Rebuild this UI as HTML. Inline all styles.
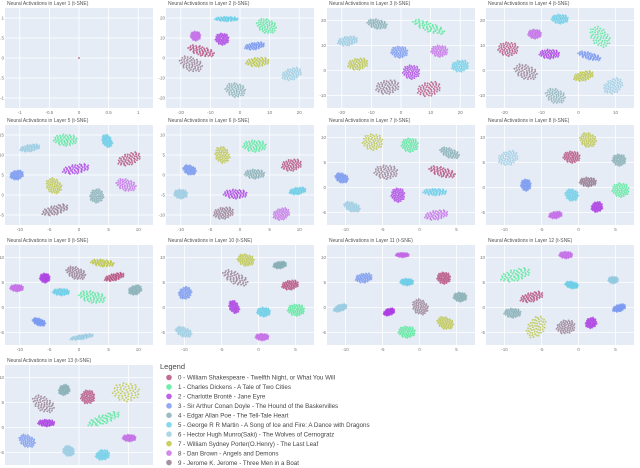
<!DOCTYPE html>
<html><head><meta charset="utf-8">
<style>
html,body{margin:0;padding:0;background:#fff;width:640px;height:468px;overflow:hidden;font-family:"Liberation Sans",sans-serif;}
svg{display:block}
</style></head>
<body>
<svg id="chart" width="640" height="468" viewBox="0 0 640 468"></svg>
<script>
const panelTitles=["Neural Activations in Layer 1 (t-SNE)","Neural Activations in Layer 2 (t-SNE)","Neural Activations in Layer 3 (t-SNE)","Neural Activations in Layer 4 (t-SNE)","Neural Activations in Layer 5 (t-SNE)","Neural Activations in Layer 6 (t-SNE)","Neural Activations in Layer 7 (t-SNE)","Neural Activations in Layer 8 (t-SNE)","Neural Activations in Layer 9 (t-SNE)","Neural Activations in Layer 10 (t-SNE)","Neural Activations in Layer 11 (t-SNE)","Neural Activations in Layer 12 (t-SNE)","Neural Activations in Layer 13 (t-SNE)"];
const authorLabels=["0 - William Shakespeare - Twelfth Night, or What You Will","1 - Charles Dickens - A Tale of Two Cities","2 - Charlotte Brontë - Jane Eyre","3 - Sir Arthur Conan Doyle - The Hound of the Baskervilles","4 - Edgar Allan Poe - The Tell-Tale Heart","5 - George R R Martin - A Song of Ice and Fire: A Dance with Dragons","6 - Hector Hugh Munro(Saki) - The Wolves of Cernogratz","7 - William Sydney Porter(O.Henry) - The Last Leaf","8 - Dan Brown - Angels and Demons","9 - Jerome K. Jerome - Three Men in a Boat"];
const authorColors=["#b03a6e","#3fe88c","#a72ee0","#6c8ef0","#7aa7ad","#5ccbe6","#8ec8de","#b7bf2c","#c263e6","#8a6b80"];
// cluster centres per panel (normalised 0..1), index = author id; panel 0 has one point
const clusterX=[
 [0.5],
 [0.24,0.68,0.38,0.60,0.47,0.41,0.85,0.62,0.20,0.17],
 [0.69,0.69,0.57,0.49,0.34,0.90,0.14,0.21,0.76,0.41],
 [0.15,0.77,0.43,0.70,0.47,0.50,0.86,0.66,0.33,0.27],
 [0.84,0.41,0.48,0.08,0.62,0.69,0.17,0.33,0.82,0.34],
 [0.85,0.60,0.47,0.16,0.60,0.89,0.10,0.38,0.78,0.39],
 [0.78,0.56,0.48,0.10,0.83,0.73,0.17,0.31,0.74,0.40],
 [0.58,0.91,0.75,0.27,0.90,0.58,0.15,0.69,0.47,0.69],
 [0.74,0.59,0.27,0.23,0.88,0.38,0.52,0.66,0.08,0.48],
 [0.84,0.88,0.46,0.13,0.77,0.66,0.12,0.54,0.65,0.47],
 [0.79,0.54,0.42,0.25,0.90,0.54,0.09,0.80,0.51,0.63],
 [0.31,0.20,0.71,0.90,0.18,0.58,0.86,0.34,0.54,0.54],
 [0.56,0.67,0.28,0.15,0.40,0.66,0.43,0.82,0.84,0.26]
];
const clusterY=[
 [0.5],
 [0.43,0.18,0.31,0.38,0.82,0.11,0.66,0.54,0.28,0.56],
 [0.81,0.19,0.64,0.44,0.16,0.58,0.33,0.56,0.43,0.79],
 [0.41,0.29,0.46,0.48,0.88,0.11,0.78,0.68,0.26,0.64],
 [0.34,0.15,0.44,0.50,0.71,0.16,0.23,0.61,0.60,0.85],
 [0.40,0.21,0.69,0.45,0.49,0.66,0.69,0.30,0.89,0.88],
 [0.47,0.20,0.70,0.53,0.28,0.67,0.82,0.17,0.90,0.47],
 [0.32,0.65,0.82,0.60,0.35,0.70,0.33,0.15,0.90,0.57],
 [0.32,0.52,0.33,0.77,0.45,0.47,0.92,0.18,0.43,0.28],
 [0.40,0.65,0.62,0.48,0.20,0.67,0.87,0.15,0.92,0.33],
 [0.33,0.87,0.67,0.33,0.52,0.37,0.63,0.78,0.10,0.62],
 [0.52,0.30,0.78,0.63,0.68,0.40,0.35,0.82,0.10,0.82],
 [0.32,0.54,0.58,0.76,0.25,0.90,0.86,0.27,0.73,0.39]
];
const spreadX=[
 [0],
 [0.08,0.06,0.04,0.06,0.06,0.07,0.06,0.07,0.03,0.07],
 [0.07,0.10,0.05,0.05,0.06,0.05,0.06,0.06,0.05,0.07],
 [0.06,0.07,0.06,0.07,0.06,0.05,0.06,0.06,0.04,0.07],
 [0.07,0.07,0.08,0.04,0.04,0.04,0.06,0.05,0.06,0.08],
 [0.06,0.07,0.07,0.04,0.06,0.05,0.04,0.05,0.05,0.06],
 [0.08,0.05,0.04,0.04,0.06,0.07,0.05,0.06,0.07,0.07],
 [0.05,0.05,0.03,0.03,0.04,0.04,0.06,0.05,0.04,0.05],
 [0.06,0.08,0.03,0.04,0.04,0.05,0.07,0.07,0.04,0.06],
 [0.05,0.05,0.04,0.04,0.04,0.04,0.05,0.05,0.04,0.08],
 [0.04,0.05,0.02,0.05,0.04,0.04,0.02,0.05,0.04,0.05],
 [0.07,0.09,0.03,0.04,0.05,0.04,0.03,0.07,0.04,0.04],
 [0.04,0.10,0.05,0.05,0.03,0.03,0.03,0.08,0.04,0.07]
];
const spreadY=[
 [0],
 [0.04,0.06,0.05,0.03,0.06,0.02,0.05,0.04,0.04,0.06],
 [0.06,0.04,0.06,0.05,0.04,0.05,0.04,0.05,0.05,0.06],
 [0.06,0.07,0.04,0.03,0.06,0.04,0.06,0.04,0.04,0.06],
 [0.05,0.05,0.04,0.04,0.06,0.04,0.03,0.06,0.05,0.04],
 [0.05,0.05,0.04,0.04,0.04,0.03,0.04,0.06,0.05,0.05],
 [0.04,0.06,0.06,0.04,0.04,0.03,0.04,0.07,0.04,0.06],
 [0.05,0.06,0.05,0.05,0.05,0.05,0.06,0.06,0.03,0.04],
 [0.03,0.05,0.04,0.03,0.04,0.03,0.02,0.03,0.03,0.05],
 [0.04,0.05,0.04,0.05,0.03,0.04,0.04,0.05,0.03,0.05],
 [0.05,0.05,0.05,0.04,0.04,0.03,0.06,0.05,0.02,0.06],
 [0.04,0.05,0.05,0.03,0.04,0.03,0.03,0.07,0.03,0.08],
 [0.06,0.04,0.03,0.05,0.05,0.06,0.05,0.08,0.03,0.06]
];
const tiltDeg=[
 [0],
 [15,20,0,-10,10,0,-20,-5,0,20],
 [-15,20,0,0,10,-10,-10,-10,0,-10],
 [0,45,0,15,20,0,-30,-15,0,20],
 [-20,0,-10,-15,60,60,-10,40,15,-15],
 [-10,0,0,20,0,-10,0,60,-20,-10],
 [15,0,0,20,20,0,20,0,-10,0],
 [0,0,70,0,0,20,-20,20,-10,0],
 [-15,10,0,20,-20,0,-10,5,0,20],
 [-10,0,60,-40,-10,0,20,10,0,25],
 [0,0,70,-10,0,0,70,20,0,40],
 [-15,-15,60,-20,0,10,0,-55,0,80],
 [80,-20,0,25,60,80,-60,0,0,30]
];
const xTicks=[["-1","-0.5","0","0.5","1"],["-20","-10","0","10","20"],["-20","-10","0","10","20"],["-20","-10","0","10"],["-10","-5","0","5","10"],["-10","-5","0","5","10"],["-10","-5","0","5"],["-10","-5","0","5"],["-10","-5","0","5","10"],["-10","-5","0","5"],["-10","-5","0","5"],["-10","-5","0","5"],["-10","0","10"]];
const yTicks=[["1","0.5","0","-0.5","-1"],["20","10","0","-10","-20"],["20","10","0","-10"],["20","10","0","-10"],["15","10","5","0","-5"],["10","5","0","-5","-10"],["10","5","0","-5"],["10","5","0","-5"],["10","5","0","-5"],["10","5","0","-5"],["10","5","0","-5"],["10","5","0","-5"],["10","5","0","-5"]];

const NS="http://www.w3.org/2000/svg";
const svg=document.getElementById('chart');
const colX=[5,166,327,486], rowY=[8,125,245,365], PW=148, PH=100;
function mk(t,a,p){const e=document.createElementNS(NS,t);for(const k in a)e.setAttribute(k,a[k]);(p||svg).appendChild(e);return e;}
function sx(px,f){return px+f*PW;}
function sy(py,f){return py+f*PH;}

for(let p=0;p<13;p++){
  const px=colX[p%4], py=rowY[Math.floor(p/4)];
  const g=mk('g',{});
  
  
  const t=mk('text',{x:px+2,y:py-3,'font-size':5,fill:'#555'},g);
  t.textContent=panelTitles[p];
  
  
  const bg=mk('rect',{x:px,y:py,width:PW,height:PH,fill:'#e5ecf6'},g);
  
  
  const nx=xTicks[p].length, ny=yTicks[p].length;
  for(let i=0;i<nx;i++){
    const f=(i+0.5)/nx, x=sx(px,f);
    const l=mk('line',{x1:x,x2:x,y1:py,y2:py+PH,stroke:'#fff','stroke-width':0.8},g);
    
    
    const tl=mk('text',{x:x,y:py+PH+6,'font-size':4.5,fill:'#777','text-anchor':'middle'},g);
    tl.textContent=xTicks[p][i];
    
    
  }
  for(let i=0;i<ny;i++){
    const f=(i+0.5)/ny, y=sy(py,f);
    const l=mk('line',{x1:px,x2:px+PW,y1:y,y2:y,stroke:'#fff','stroke-width':0.8},g);
    
    
    const tl=mk('text',{x:px-1,y:y+1.5,'font-size':4.5,fill:'#777','text-anchor':'end'},g);
    tl.textContent=yTicks[p][i];
    
    
  }
  const n=p===0?1:55;
  for(let c=0;c<clusterX[p].length;c++){
    const cg=mk('g',{fill:authorColors[p===0?0:c],'fill-opacity':0.7},g);
    
    
    const a=tiltDeg[p][c]*Math.PI/180, ca=Math.cos(a), sa=Math.sin(a);
    for(let i=0;i<n;i++){
      const r=Math.sqrt((i+0.5)/n)*1.2, th=i*2.39996;
      const u=r*Math.cos(th)*spreadX[p][c], v=r*Math.sin(th)*spreadY[p][c];
      const fx=clusterX[p][c]+u*ca-v*sa*(PH/PW), fy=clusterY[p][c]+u*sa*(PW/PH)+v*ca;
      mk('circle',{cx:sx(px,fx).toFixed(1),cy:sy(py,fy).toFixed(1),r:0.95},cg);
    }
  }
}

// legend
const lg=mk('g',{});


const lt=mk('text',{x:160,y:369,'font-size':7.5,fill:'#444'},lg);
lt.textContent='Legend';


for(let i=0;i<authorLabels.length;i++){
  const y=377.5+i*9.45;
  const e=mk('g',{},lg);
  
  
  mk('circle',{cx:169,cy:y,r:2.8,fill:authorColors[i],'fill-opacity':0.75},e);
  const tx=mk('text',{x:178,y:y+2.2,'font-size':6.2,fill:'#444'},e);
  tx.textContent=authorLabels[i];
}
</script>
</body></html>
